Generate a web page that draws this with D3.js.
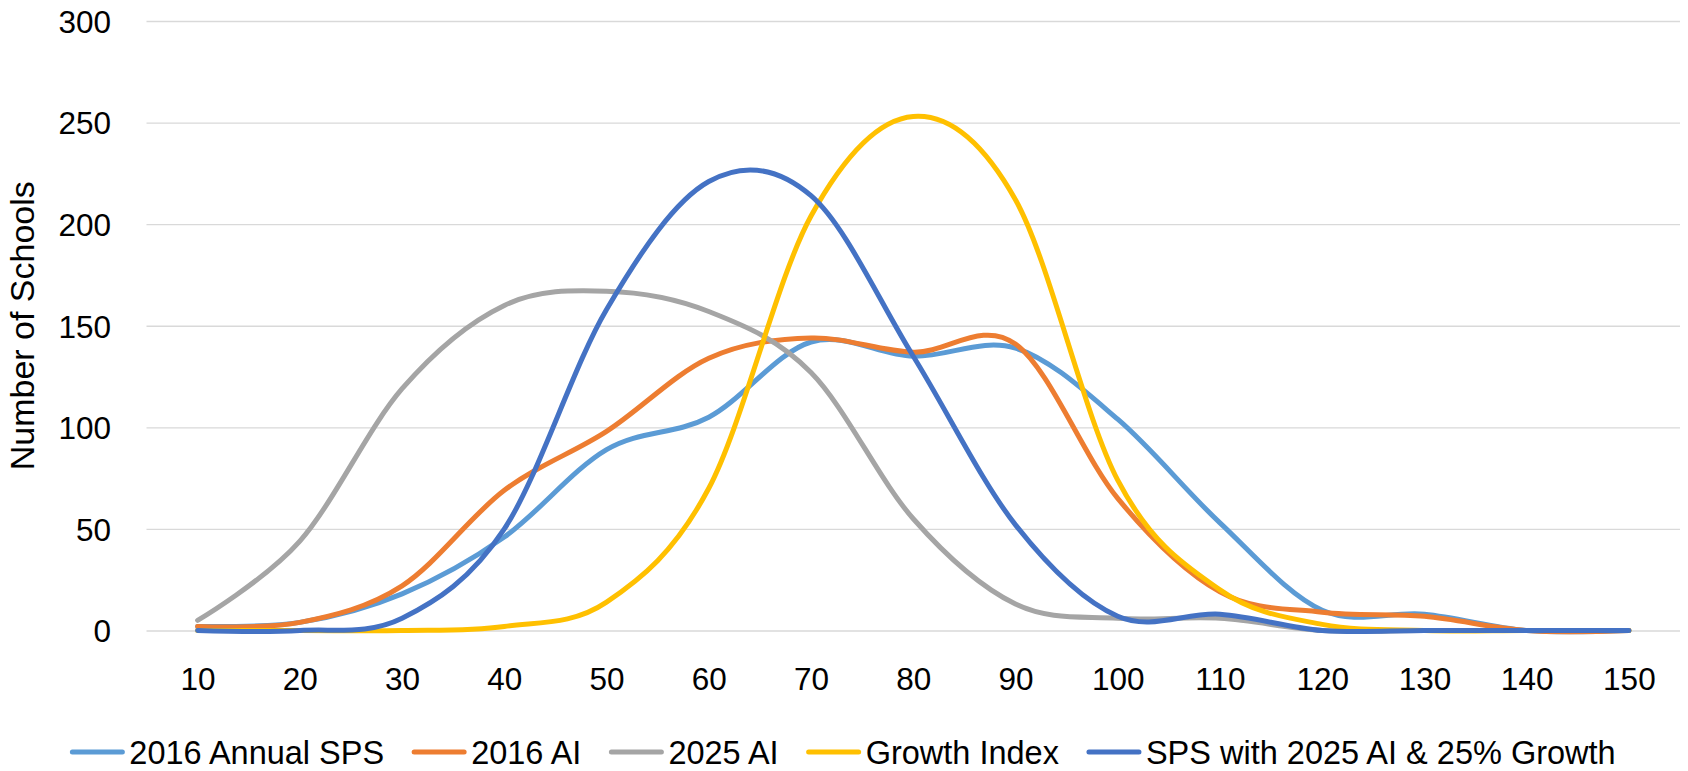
<!DOCTYPE html>
<html>
<head>
<meta charset="utf-8">
<script src="https://cdn.jsdelivr.net/npm/d3@7"></script>
<style>
  html, body { margin: 0; padding: 0; background: #fff; }
  svg { display: block; font-family: "Liberation Sans", Arial, sans-serif; }
</style>
</head>
<body>
<svg id="chart" width="1688" height="771"></svg>
<script>
// School Performance Score bands (x) and number of schools in each band (y)
const categories = [10, 20, 30, 40, 50, 60, 70, 80, 90, 100, 110, 120, 130, 140, 150];

const sps2016      = [2, 4, 18, 46, 89, 105, 142, 135, 139, 104, 53, 10, 8, 0, 0];
const ai2016       = [2, 4, 22, 69, 98, 134, 144, 137, 141, 65, 19, 9, 7, 0, 0];
const ai2025       = [5, 44, 119, 160, 167, 157, 127, 55, 13, 6, 6, 0, 0, 0, 0];
const growthIndex  = [0, 0, 0, 2, 14, 70, 204, 253, 212, 74, 20, 3, 0, 0, 0];
const spsProjected = [0, 0, 6, 50, 158, 221, 214, 135, 52, 7, 8, 0, 0, 0, 0];

const seriesNames  = ["2016 Annual SPS", "2016 AI", "2025 AI", "Growth Index", "SPS with 2025 AI & 25% Growth"];
const seriesColors = ["#5B9BD5", "#ED7D31", "#A5A5A5", "#FFC000", "#4472C4"];
const seriesValues = [sps2016, ai2016, ai2025, growthIndex, spsProjected];

const yTicks = [0, 50, 100, 150, 200, 250, 300];
const yTitle = "Number of Schools";

const svg = d3.select("#chart");
const W = 1688;

const plot = { left: 146.5, right: 1680, top: 21, bottom: 630.5 };

const x = d3.scalePoint()
  .domain(categories)
  .range([plot.left, plot.right])
  .padding(0.5);

const y = d3.scaleLinear()
  .domain([0, 300])
  .range([plot.bottom, plot.top]);

// Horizontal gridlines with value labels
const yAxis = svg.append("g")
  .attr("transform", `translate(${plot.left},0)`)
  .call(d3.axisLeft(y)
    .tickValues(yTicks)
    .tickSize(-(plot.right - plot.left))
    .tickPadding(35.5)
    .tickFormat(d3.format("d")));
yAxis.select(".domain").remove();
yAxis.selectAll(".tick line")
  .attr("stroke", "#d9d9d9")
  .attr("stroke-width", 1.4);
yAxis.selectAll(".tick text")
  .attr("fill", "#000")
  .attr("font-size", 31.5)
  .attr("dy", "0.36em");

// Category labels along the bottom
const xAxis = svg.append("g")
  .attr("transform", `translate(0,${plot.bottom})`)
  .call(d3.axisBottom(x).tickSize(0));
xAxis.select(".domain").remove();
xAxis.selectAll(".tick text")
  .attr("fill", "#000")
  .attr("font-size", 31.5)
  .attr("y", 59.5)
  .attr("dy", 0);

// Vertical axis title
svg.append("text")
  .attr("transform", `translate(34,${(plot.top + plot.bottom) / 2}) rotate(-90)`)
  .attr("text-anchor", "middle")
  .attr("font-size", 34)
  .attr("fill", "#000")
  .text(yTitle);

// Smoothed series lines
const line = d3.line()
  .x((d, i) => x(categories[i]))
  .y(d => y(d))
  .curve(d3.curveCardinal.tension(0));

const lines = svg.append("g");
seriesValues.forEach((vals, i) => {
  lines.append("path")
    .datum(vals)
    .attr("d", line)
    .attr("fill", "none")
    .attr("stroke", seriesColors[i])
    .attr("stroke-width", 5)
    .attr("stroke-linecap", "round")
    .attr("stroke-linejoin", "round");
});

// Legend, centred under the chart
const legend = svg.append("g");
const swatchLen = 50, swatchGap = 7, itemGap = 30, legendY = 764;
const items = seriesNames.map((name, i) => {
  const g = legend.append("g");
  g.append("line")
    .attr("x1", 0).attr("x2", swatchLen)
    .attr("y1", -12).attr("y2", -12)
    .attr("stroke", seriesColors[i])
    .attr("stroke-width", 5)
    .attr("stroke-linecap", "round");
  const t = g.append("text")
    .attr("x", swatchLen + swatchGap)
    .attr("y", 0)
    .attr("font-size", 32.5)
    .attr("fill", "#000")
    .text(name);
  return { g, w: swatchLen + swatchGap + t.node().getComputedTextLength() };
});
const total = d3.sum(items, d => d.w) + itemGap * (items.length - 1);
let cx = W / 2 - total / 2;
items.forEach(it => {
  it.g.attr("transform", `translate(${cx},${legendY})`);
  cx += it.w + itemGap;
});
</script>
</body>
</html>
